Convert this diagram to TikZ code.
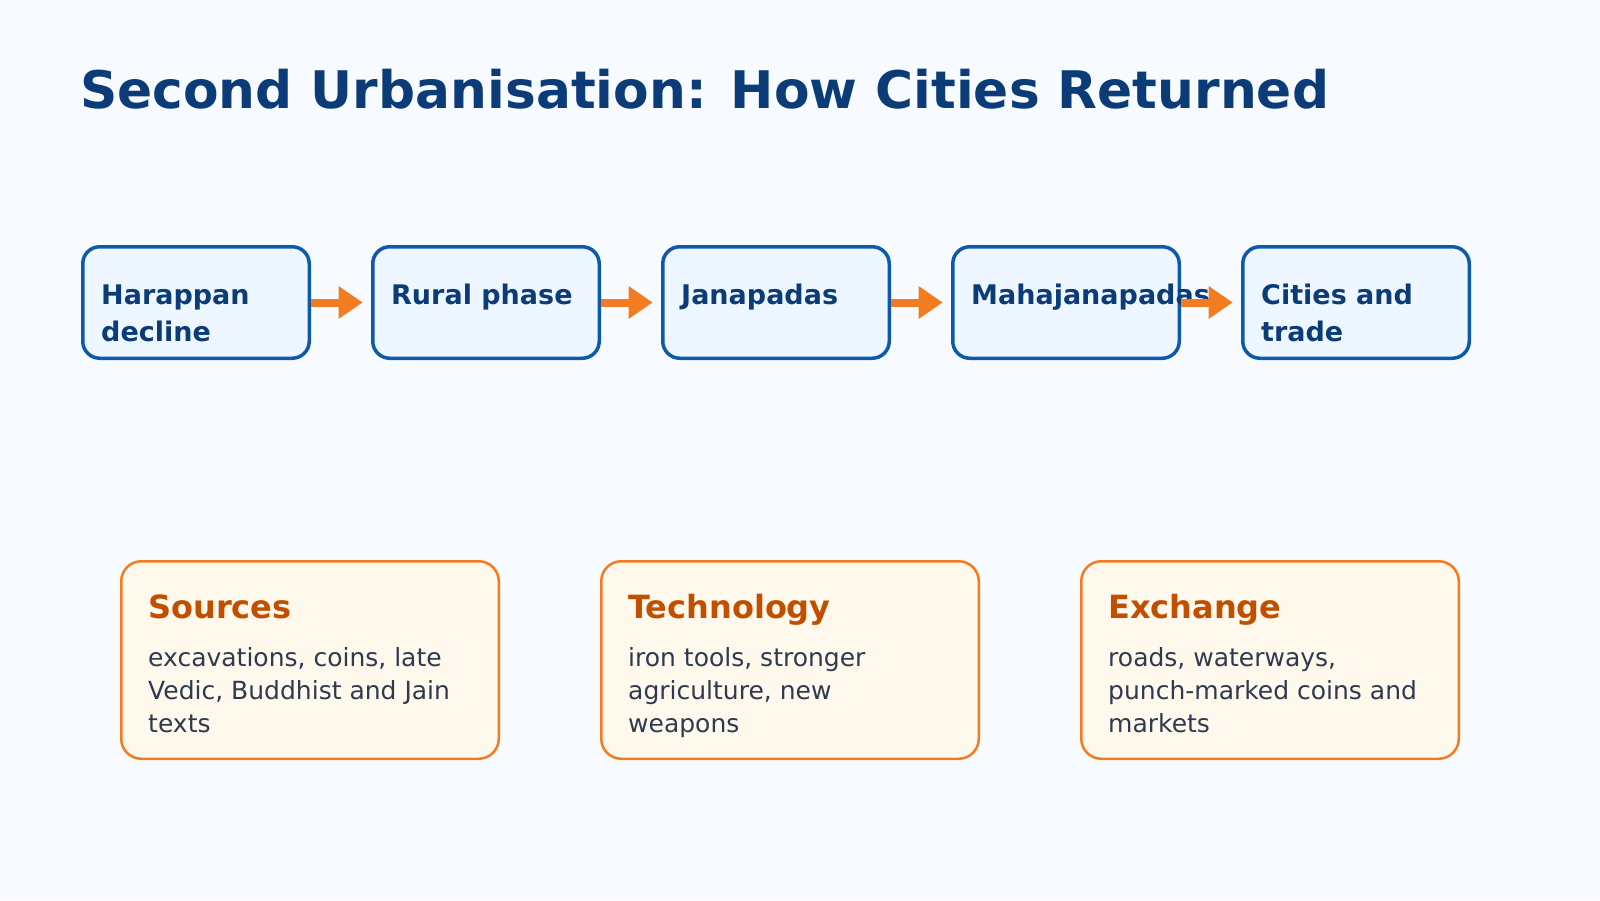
\documentclass[tikz,border=0pt]{standalone}
\usepackage{fontspec}
\setmainfont{DejaVu Sans}
\usetikzlibrary{arrows.meta}
\definecolor{bg}{HTML}{F7FBFF}
\definecolor{navy}{HTML}{0B3C78}
\definecolor{stepblue}{HTML}{0E5AAA}
\definecolor{stepfill}{HTML}{EEF6FF}
\definecolor{orng}{HTML}{F47C20}
\definecolor{cardfill}{HTML}{FFF8EC}
\definecolor{headorange}{HTML}{C05000}
\definecolor{bodytext}{HTML}{2E3B4E}
\tikzset{
  stepbox/.style={draw=stepblue, fill=stepfill, line width=3.5pt, rounded corners=17pt,
    minimum width=226.5pt, minimum height=111.5pt, inner sep=0pt},
  steptext/.style={anchor=base west, inner sep=0pt, text=navy,
    font=\bfseries\fontsize{27}{33}\selectfont},
  card/.style={draw=orng, fill=cardfill, line width=2.5pt, rounded corners=20pt,
    minimum width=377.5pt, minimum height=197.5pt, inner sep=0pt},
  cardhead/.style={anchor=base west, inner sep=0pt, text=headorange,
    font=\bfseries\fontsize{32}{38}\selectfont},
  cardbody/.style={anchor=base west, inner sep=0pt, text=bodytext,
    font=\fontsize{25}{33}\selectfont},
  titletext/.style={anchor=base west, inner sep=0pt, text=navy,
    font=\bfseries\fontsize{51.8}{60}\selectfont},
  flow/.style={draw=orng, line width=8pt, -{Triangle[length=24pt,width=31pt]}}
}
\begin{document}
\begin{tikzpicture}[x=1pt,y=-1pt]
\path[fill=bg] (0,0) rectangle (1600,900);
\useasboundingbox (0,0) rectangle (1600,900);

\node[titletext] (title) at (80,108) {Second Urbanisation: How Cities Returned};

% step boxes
\node[stepbox] (s1) at (196,302.5) {};
\node[stepbox] (s2) at (486,302.5) {};
\node[stepbox] (s3) at (776,302.5) {};
\node[stepbox] (s4) at (1066,302.5) {};
\node[stepbox] (s5) at (1356,302.5) {};

\node[steptext] (s1a) at ([xshift=20pt,yshift=-59.8pt]s1.north west) {Harappan};
\node[steptext] (s1b) at ([xshift=20pt,yshift=-96.2pt]s1.north west) {decline};
\node[steptext] (s2a) at ([xshift=20pt,yshift=-59.8pt]s2.north west) {Rural phase};
\node[steptext] (s3a) at ([xshift=20pt,yshift=-59.8pt]s3.north west) {Janapadas};
\node[steptext] (s4a) at ([xshift=20pt,yshift=-59.8pt]s4.north west) {Mahajanapadas};
\node[steptext] (s5a) at ([xshift=20pt,yshift=-59.8pt]s5.north west) {Cities and};
\node[steptext] (s5b) at ([xshift=20pt,yshift=-96.2pt]s5.north west) {trade};

% arrows
\draw[flow] (s1.east) -- ([xshift=-8.3pt]s2.west);
\draw[flow] (s2.east) -- ([xshift=-8.3pt]s3.west);
\draw[flow] (s3.east) -- ([xshift=-8.3pt]s4.west);
\draw[flow] (s4.east) -- ([xshift=-8.3pt]s5.west);

% cards
\node[card] (c1) at (310,660) {};
\node[card] (c2) at (790,660) {};
\node[card] (c3) at (1270,660) {};

\node[cardhead] (c1h) at ([xshift=28pt,yshift=-58pt]c1.north west) {Sources};
\node[cardbody] (c1a) at ([xshift=28pt,yshift=-106pt]c1.north west) {excavations, coins, late};
\node[cardbody] (c1b) at ([xshift=28pt,yshift=-139pt]c1.north west) {Vedic, Buddhist and Jain};
\node[cardbody] (c1c) at ([xshift=28pt,yshift=-172pt]c1.north west) {texts};

\node[cardhead] (c2h) at ([xshift=28pt,yshift=-58pt]c2.north west) {Technology};
\node[cardbody] (c2a) at ([xshift=28pt,yshift=-106pt]c2.north west) {iron tools, stronger};
\node[cardbody] (c2b) at ([xshift=28pt,yshift=-139pt]c2.north west) {agriculture, new};
\node[cardbody] (c2c) at ([xshift=28pt,yshift=-172pt]c2.north west) {weapons};

\node[cardhead] (c3h) at ([xshift=28pt,yshift=-58pt]c3.north west) {Exchange};
\node[cardbody] (c3a) at ([xshift=28pt,yshift=-106pt]c3.north west) {roads, waterways,};
\node[cardbody] (c3b) at ([xshift=28pt,yshift=-139pt]c3.north west) {punch-marked coins and};
\node[cardbody] (c3c) at ([xshift=28pt,yshift=-172pt]c3.north west) {markets};
\end{tikzpicture}
\end{document}
